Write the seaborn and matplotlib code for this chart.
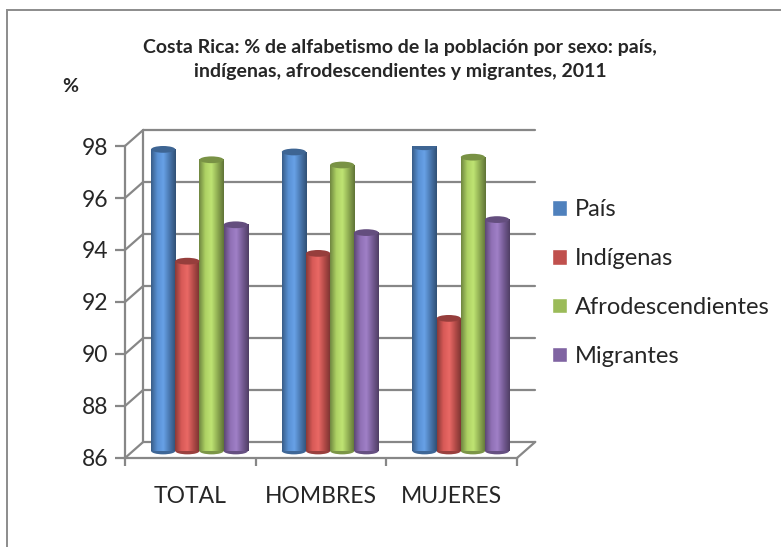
import numpy as np
import pandas as pd
import matplotlib
matplotlib.use("Agg")
import matplotlib.pyplot as plt
import seaborn as sns
from matplotlib.colors import LinearSegmentedColormap, to_rgb
from matplotlib.patches import Ellipse, Rectangle

categories = ["TOTAL", "HOMBRES", "MUJERES"]
series = ["País", "Indígenas", "Afrodescendientes", "Migrantes"]
pais = [97.6, 97.5, 97.7]
indigenas = [93.3, 93.6, 91.1]
afro = [97.2, 97.0, 97.3]
migrantes = [94.7, 94.4, 94.9]
colors = ["#4F81BD", "#C0504D", "#9BBB59", "#8064A2"]
yticks = [86, 88, 90, 92, 94, 96, 98]

df = pd.DataFrame({
    "sexo": categories * 4,
    "grupo": [s for s in series for _ in categories],
    "valor": pais + indigenas + afro + migrantes,
})

sns.set_style("white")
plt.rcParams["font.family"] = ["Lato", "DejaVu Sans"]

fig = plt.figure(figsize=(7.81, 5.47), dpi=100)
ax = fig.add_axes([125 / 781, 89 / 547, 392 / 781, 312 / 547])

sns.barplot(data=df, x="sexo", y="valor", hue="grupo", palette=colors,
            width=0.74, gap=0, ax=ax, errorbar=None, saturation=1)

base = 86
dx, dy = 0.07, 0.27      # bars sit half way into the depth
bx, by = 0.14, 0.62      # back wall offset
grid_c = "#878787"

bars = list(ax.patches)
for p in bars:
    val = p.get_height()
    if val <= 0:
        continue
    x0, w = p.get_x() + dx, p.get_width()
    c = np.array(to_rgb(p.get_facecolor()))
    p.set_x(x0)
    p.set_y(base + dy)
    p.set_height(val - base)
    p.set_linewidth(0)
    p.set_zorder(2)
    cmap = LinearSegmentedColormap.from_list(
        "cyl", [c * 0.72, np.minimum(c * 1.12, 1), np.minimum(c * 1.15 + 0.05, 1), c * 0.92, c * 0.62])
    ax.imshow(np.linspace(0, 1, 64).reshape(1, -1), cmap=cmap, aspect="auto",
              extent=(x0, x0 + w, base + dy, val + dy), zorder=3, interpolation="bilinear")
    ax.add_patch(Ellipse((x0 + w / 2, base + dy), w, 0.26, color=c * 0.8, zorder=2.5, lw=0))
    ax.add_patch(Ellipse((x0 + w / 2, val + dy), w, 0.26, color=c * 0.78, zorder=4, lw=0))

# back wall and side wall
for y in yticks:
    ax.plot([-0.5 + bx, 2.5 + bx], [y + by, y + by], color=grid_c, lw=1.6, clip_on=False, zorder=1)
    ax.plot([-0.5, -0.5 + bx], [y, y + by], color=grid_c, lw=1.6, clip_on=False, zorder=1)
ax.plot([-0.5 + bx, -0.5 + bx], [base + by, 98 + by], color=grid_c, lw=1.6, clip_on=False, zorder=1)
ax.plot([2.5, 2.5 + bx], [base, base + by], color=grid_c, lw=1.6, clip_on=False, zorder=1)

ax.set_xlim(-0.5, 2.5)
ax.set_ylim(86, 98)
ax.set_yticks(yticks)
ax.set_xticks([0, 1, 2])
ax.set_xticks([-0.5, 0.5, 1.5, 2.5], minor=True)
ax.set_xlabel("")
ax.set_ylabel("")
for s in ["top", "right"]:
    ax.spines[s].set_visible(False)
for s in ["left", "bottom"]:
    ax.spines[s].set_color(grid_c)
    ax.spines[s].set_linewidth(1.6)
ax.tick_params(axis="y", direction="out", length=7, width=1.6, color=grid_c,
               labelsize=16.5, pad=5, left=True)
ax.tick_params(axis="x", which="major", length=0, labelsize=16.5, pad=20)
ax.tick_params(axis="x", which="minor", direction="out", length=6, width=1.6,
               color=grid_c, bottom=True)
ax.grid(False)

sns.move_legend(ax, "center left", bbox_to_anchor=(531 / 781, 1 - 283 / 547),
                bbox_transform=fig.transFigure, frameon=False, title=None,
                fontsize=17, handlelength=0.64, handleheight=0.64,
                handletextpad=0.3, labelspacing=1.18)

fig.text(400 / 781, 1 - 59 / 547,
         "Costa Rica: % de alfabetismo de la población por sexo: país,\n"
         "indígenas, afrodescendientes y migrantes, 2011",
         ha="center", va="center", fontsize=14, fontweight="bold",
         linespacing=1.5)
fig.text(70 / 781, 1 - 86 / 547, "%", ha="center", va="center",
         fontsize=14, fontweight="bold")

fig.add_artist(Rectangle((7 / 781, -0.1), 1.2, 1.1 - 10 / 547,
                         transform=fig.transFigure, fill=False,
                         edgecolor="#8c8c8c", lw=1.4))

fig.savefig("out.png", dpi=100)
